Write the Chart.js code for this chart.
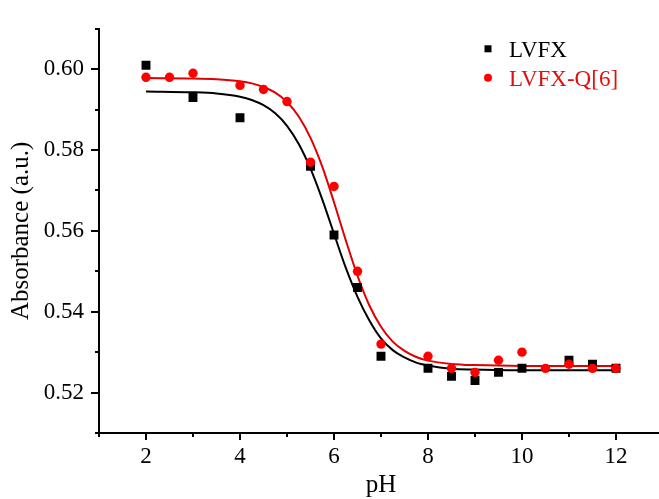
<!DOCTYPE html>
<html>
<head>
<meta charset="utf-8">
<script src="https://cdn.jsdelivr.net/npm/chart.js@4.4.1/dist/chart.umd.min.js"></script>
<style>
  html, body { margin: 0; padding: 0; background: #fff; overflow: hidden; }
  #chart { display: block; }
</style>
</head>
<body>
<canvas id="chart" width="680" height="499" style="width:680px;height:499px"></canvas>
<script>
// measured points
const phLVFX = [2, 3, 4, 5.5, 6, 6.5, 7, 8, 8.5, 9, 9.5, 10, 11, 11.5, 12];
const absLVFX = [0.601, 0.593, 0.588, 0.576, 0.559, 0.546, 0.529, 0.526, 0.524, 0.523, 0.525, 0.526, 0.528, 0.527, 0.526];
const phQ6 = [2, 2.5, 3, 4, 4.5, 5, 5.5, 6, 6.5, 7, 8, 8.5, 9, 9.5, 10, 10.5, 11, 11.5, 12];
const absQ6 = [0.598, 0.598, 0.599, 0.596, 0.595, 0.592, 0.577, 0.571, 0.550, 0.532, 0.529, 0.526, 0.525, 0.528, 0.530, 0.526, 0.527, 0.526, 0.526];

// sigmoid fit curves
const fitPH = [2, 3, 3.5, 4, 4.25, 4.5, 4.75, 5, 5.25, 5.5, 5.75, 6, 6.25, 6.5, 6.75, 7, 7.25, 7.5, 7.75, 8, 8.5, 9, 10, 11, 12];
const fitLVFX = [0.5945, 0.5943, 0.5940, 0.5932, 0.5924, 0.5911, 0.5891, 0.5860, 0.5815, 0.5754, 0.5678, 0.5593, 0.5509, 0.5437, 0.5379, 0.5334, 0.5305, 0.5287, 0.5274, 0.5267, 0.5259, 0.5257, 0.5255, 0.5255, 0.5255];
const fitQ6 = [0.5978, 0.5977, 0.5975, 0.5970, 0.5965, 0.5956, 0.5942, 0.5919, 0.5883, 0.5830, 0.5759, 0.5671, 0.5577, 0.5489, 0.5416, 0.5363, 0.5326, 0.5303, 0.5288, 0.5279, 0.5271, 0.5268, 0.5266, 0.5266, 0.5266];

const xMajor = [2, 4, 6, 8, 10, 12];
const yMajor = [0.52, 0.54, 0.56, 0.58, 0.60];

const serif = '"Liberation Serif", "Times New Roman", serif';
const BLACK = '#000000';
const RED = '#ff0000';

const pts = (xs, ys) => xs.map((x, i) => ({ x: x, y: ys[i] }));

// outward tick marks, long for labelled values, short in between
const tickMarks = {
  id: 'tickMarks',
  afterDraw(chart) {
    const ctx = chart.ctx;
    const xs = chart.scales.x, ys = chart.scales.y;
    const area = chart.chartArea;
    ctx.save();
    ctx.strokeStyle = BLACK;
    ctx.lineWidth = 2;
    for (let v = 1; v <= 13; v++) {
      const px = Math.round(xs.getPixelForValue(v));
      const len = xMajor.includes(v) ? 7 : 4;
      ctx.beginPath();
      ctx.moveTo(px, area.bottom);
      ctx.lineTo(px, area.bottom + len);
      ctx.stroke();
    }
    for (let k = 51; k <= 61; k++) {
      const v = k / 100;
      const py = Math.round(ys.getPixelForValue(v));
      const len = yMajor.some(m => Math.abs(m - v) < 1e-6) ? 8 : 4;
      ctx.beginPath();
      ctx.moveTo(area.left, py);
      ctx.lineTo(area.left - len, py);
      ctx.stroke();
    }
    ctx.restore();
  }
};

// legend in the upper right corner
const cornerLegend = {
  id: 'cornerLegend',
  afterDraw(chart) {
    const ctx = chart.ctx;
    const area = chart.chartArea;
    const x0 = area.left + 389;
    const rows = [
      { ds: chart.data.datasets[1], y: area.top + 20, color: BLACK },
      { ds: chart.data.datasets[0], y: area.top + 49, color: '#e01010' }
    ];
    ctx.save();
    ctx.font = '23px ' + serif;
    ctx.textBaseline = 'middle';
    rows.forEach(r => {
      ctx.fillStyle = r.ds.backgroundColor;
      if (r.ds.pointStyle === 'rect') {
        ctx.fillRect(x0 - 3.5, r.y - 3.5, 7, 7);
      } else {
        ctx.beginPath();
        ctx.arc(x0, r.y, 4, 0, Math.PI * 2);
        ctx.fill();
      }
      ctx.fillStyle = r.color;
      ctx.fillText(r.ds.label, x0 + 21, r.y + 2);
    });
    ctx.restore();
  }
};

new Chart(document.getElementById('chart'), {
  type: 'scatter',
  data: {
    datasets: [
      {
        label: 'LVFX-Q[6]',
        data: pts(phQ6, absQ6),
        pointStyle: 'circle',
        pointRadius: 4.7,
        pointBorderWidth: 0,
        backgroundColor: RED,
        borderColor: RED
      },
      {
        label: 'LVFX',
        data: pts(phLVFX, absLVFX),
        pointStyle: 'rect',
        pointRadius: 6.3,
        pointBorderWidth: 0,
        backgroundColor: BLACK,
        borderColor: BLACK
      },
      {
        label: 'LVFX-Q[6] fit',
        type: 'line',
        data: pts(fitPH, fitQ6),
        borderColor: '#e00000',
        borderWidth: 2,
        pointRadius: 0,
        cubicInterpolationMode: 'monotone',
        fill: false
      },
      {
        label: 'LVFX fit',
        type: 'line',
        data: pts(fitPH, fitLVFX),
        borderColor: BLACK,
        borderWidth: 2,
        pointRadius: 0,
        cubicInterpolationMode: 'monotone',
        fill: false
      }
    ]
  },
  options: {
    responsive: false,
    animation: false,
    devicePixelRatio: 1,
    layout: { padding: { top: 14, right: 17, left: 0, bottom: 0 } },
    plugins: {
      legend: { display: false },
      tooltip: { enabled: false }
    },
    scales: {
      x: {
        type: 'linear',
        min: 1,
        max: 13,
        grid: { display: false, drawTicks: false },
        border: { display: true, color: BLACK, width: 2 },
        ticks: {
          stepSize: 1,
          autoSkip: false,
          maxRotation: 0,
          padding: 10,
          color: BLACK,
          font: { family: serif, size: 23 },
          callback: v => (xMajor.includes(v) ? String(v) : '')
        },
        title: {
          display: true,
          text: 'pH',
          color: BLACK,
          font: { family: serif, size: 25, lineHeight: 1.1 },
          padding: { top: 0, bottom: 0 }
        },
        afterFit: s => { s.height = 66; }
      },
      y: {
        type: 'linear',
        min: 0.51,
        max: 0.61,
        grid: { display: false, drawTicks: false },
        border: { display: true, color: BLACK, width: 2 },
        ticks: {
          stepSize: 0.01,
          autoSkip: false,
          padding: 15,
          color: BLACK,
          font: { family: serif, size: 23 },
          callback: v => {
            const m = yMajor.find(t => Math.abs(t - v) < 1e-6);
            return m === undefined ? '' : m.toFixed(2);
          }
        },
        title: {
          display: true,
          text: 'Absorbance (a.u.)',
          color: BLACK,
          font: { family: serif, size: 25, lineHeight: 1.1 },
          padding: { top: 8, bottom: 0 }
        },
        afterFit: s => { s.width = 99; }
      }
    }
  },
  plugins: [tickMarks, cornerLegend]
});
</script>
</body>
</html>
